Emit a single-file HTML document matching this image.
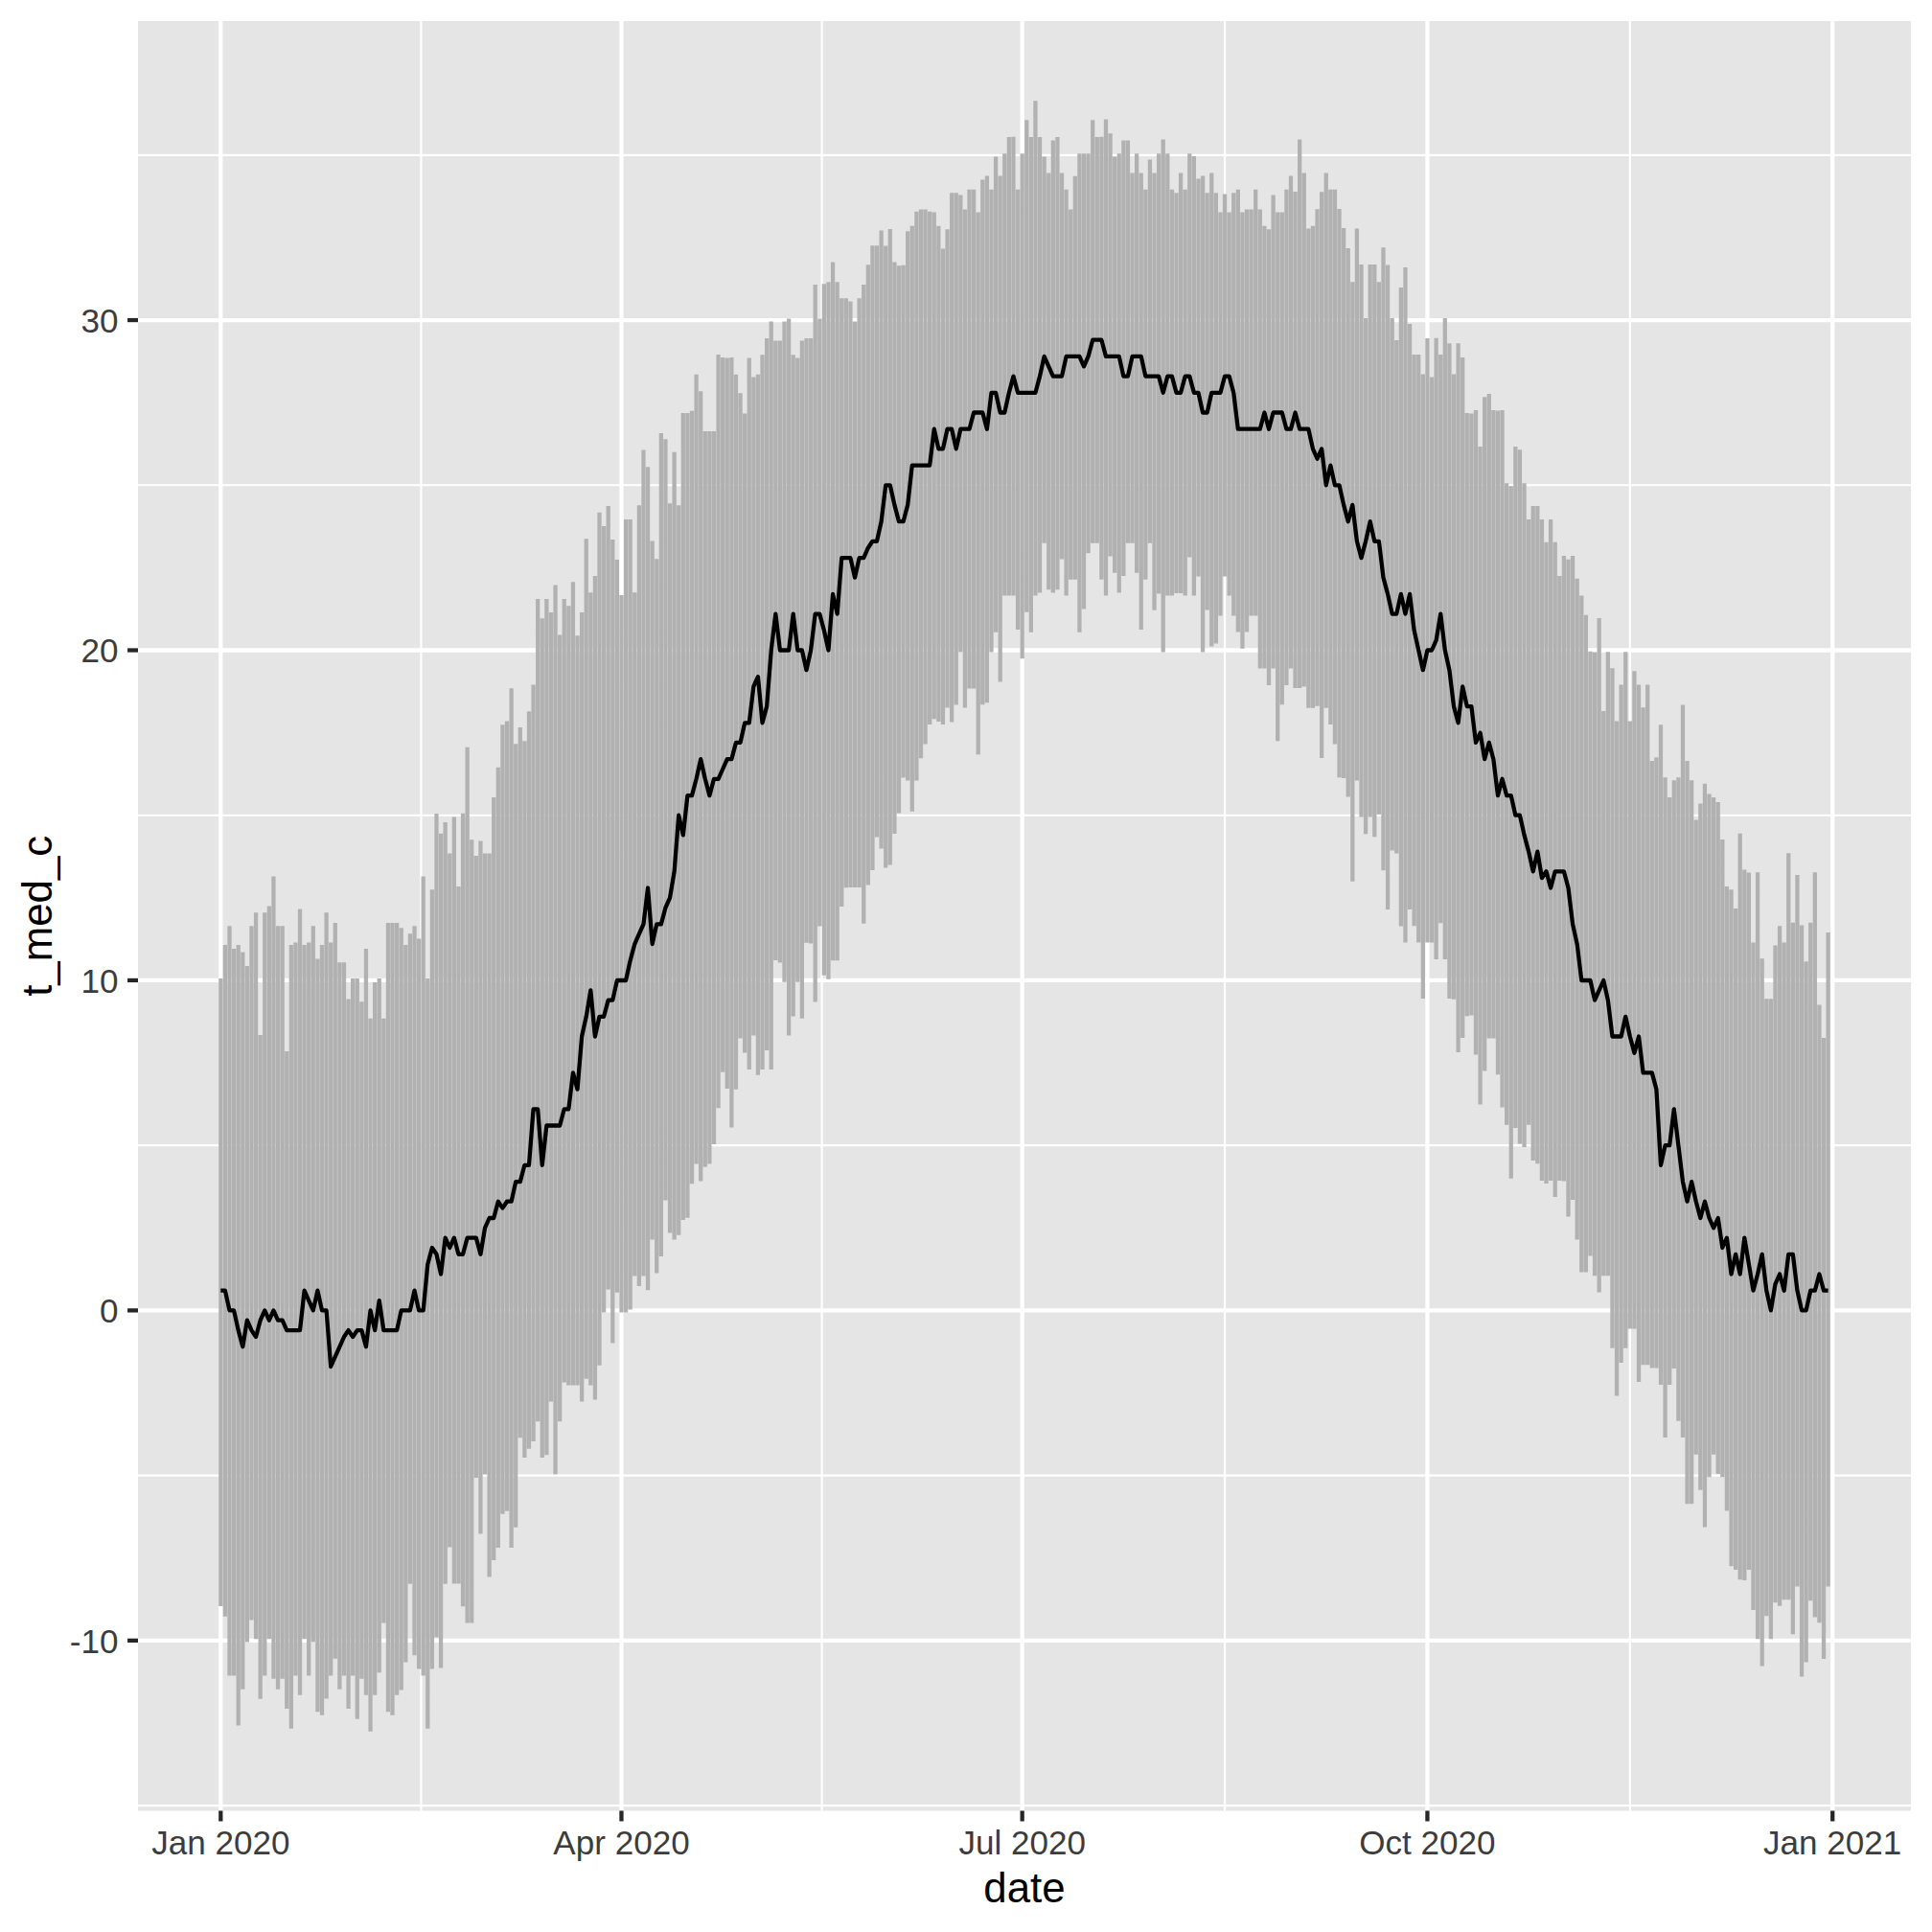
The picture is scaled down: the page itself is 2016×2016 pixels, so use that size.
<!DOCTYPE html>
<html lang="en"><head><meta charset="utf-8"><title>t_med_c by date</title>
<style>html,body{margin:0;padding:0;background:#fff}svg{display:block}text{font-family:"Liberation Sans",Arial,Helvetica,sans-serif}</style>
</head><body>
<svg width="2016" height="2016" viewBox="0 0 2016 2016">
<rect x="0" y="0" width="2016" height="2016" fill="#ffffff"/>
<rect x="144.0" y="22.0" width="1850.1" height="1867.5" fill="#E5E5E5"/>
<g stroke="#ffffff" stroke-width="2.135" fill="none">
<line x1="144.0" x2="1994.1" y1="161.83" y2="161.83"/>
<line x1="144.0" x2="1994.1" y1="506.28" y2="506.28"/>
<line x1="144.0" x2="1994.1" y1="850.73" y2="850.73"/>
<line x1="144.0" x2="1994.1" y1="1195.18" y2="1195.18"/>
<line x1="144.0" x2="1994.1" y1="1539.62" y2="1539.62"/>
<line x1="144.0" x2="1994.1" y1="1884.08" y2="1884.08"/>
<line y1="22.0" y2="1889.5" x1="439.39" x2="439.39"/>
<line y1="22.0" y2="1889.5" x1="857.57" x2="857.57"/>
<line y1="22.0" y2="1889.5" x1="1278.05" x2="1278.05"/>
<line y1="22.0" y2="1889.5" x1="1700.83" x2="1700.83"/>
</g>
<g stroke="#ffffff" stroke-width="4.27" fill="none">
<line x1="144.0" x2="1994.1" y1="334.05" y2="334.05"/>
<line x1="144.0" x2="1994.1" y1="678.50" y2="678.50"/>
<line x1="144.0" x2="1994.1" y1="1022.95" y2="1022.95"/>
<line x1="144.0" x2="1994.1" y1="1367.40" y2="1367.40"/>
<line x1="144.0" x2="1994.1" y1="1711.85" y2="1711.85"/>
<line y1="22.0" y2="1889.5" x1="230.30" x2="230.30"/>
<line y1="22.0" y2="1889.5" x1="648.48" x2="648.48"/>
<line y1="22.0" y2="1889.5" x1="1066.66" x2="1066.66"/>
<line y1="22.0" y2="1889.5" x1="1489.44" x2="1489.44"/>
<line y1="22.0" y2="1889.5" x1="1912.22" x2="1912.22"/>
</g>
<path d="M230.30 1021.1V1675.9M234.90 986.1V1686.7M239.49 966.3V1748.6M244.09 990.1V1748.6M248.68 986.1V1800.4M253.28 993.5V1762.7M257.87 1007.9V1713.6M262.47 966.3V1690.5M267.06 952.2V1710.3M271.66 1080.0V1772.8M276.25 952.2V1748.6M280.85 945.5V1710.3M285.44 914.4V1751.7M290.04 966.3V1762.7M294.64 966.3V1751.7M299.23 1096.9V1782.9M303.83 986.1V1803.8M308.42 983.4V1748.6M313.02 948.4V1768.8M317.61 986.1V1710.3M322.21 983.4V1748.6M326.80 966.3V1713.6M331.40 1000.6V1786.3M335.99 986.1V1789.7M340.59 952.2V1772.6M345.19 983.4V1748.6M349.78 963.0V1730.8M354.38 1004.3V1762.7M358.97 1004.3V1748.6M363.57 1042.4V1782.9M368.16 1021.1V1748.6M372.76 1021.1V1793.7M377.35 1045.3V1751.7M381.95 990.1V1768.8M386.54 1062.8V1806.7M391.14 1025.1V1768.8M395.73 1021.1V1745.2M400.33 1062.8V1693.4M404.93 963.0V1786.3M409.52 963.0V1789.7M414.12 963.0V1768.8M418.71 968.3V1763.4M423.31 986.1V1734.5M427.90 974.3V1652.8M432.50 966.3V1727.3M437.09 979.4V1741.6M441.69 914.4V1748.6M446.28 1021.1V1803.8M450.88 928.2V1741.6M455.47 849.1V1708.5M460.07 869.7V1740.5M464.67 857.9V1652.8M469.26 890.6V1614.5M473.86 852.6V1652.4M478.45 924.9V1652.4M483.05 848.7V1676.3M487.64 779.7V1693.6M492.24 876.3V1693.6M496.83 893.1V1542.0M501.43 877.4V1600.5M506.02 890.4V1538.6M510.62 890.4V1645.6M515.21 831.9V1628.1M519.81 800.7V1614.9M524.41 756.2V1579.7M529.00 752.4V1576.7M533.60 718.2V1614.9M538.19 776.3V1593.8M542.79 759.1V1500.3M547.38 773.3V1521.1M551.98 742.2V1511.7M556.57 714.6V1503.9M561.17 624.9V1483.2M565.76 645.3V1521.1M570.36 624.9V1518.2M574.95 638.9V1462.6M579.55 610.4V1538.2M584.15 662.4V1483.2M588.74 624.9V1442.4M593.34 632.2V1445.5M597.93 607.3V1445.5M602.53 663.2V1445.5M607.12 638.9V1462.6M611.72 562.2V1438.8M616.31 618.2V1445.5M620.91 600.9V1460.6M625.50 534.7V1424.7M630.10 549.1V1369.6M634.70 528.0V1345.6M639.29 563.0V1401.5M643.89 584.0V1348.7M648.48 621.1V1369.6M653.08 542.1V1369.6M657.67 542.1V1366.5M662.27 618.2V1331.5M666.86 527.2V1342.0M671.46 469.5V1331.5M676.05 487.3V1346.3M680.65 564.6V1293.5M685.24 583.2V1328.5M689.84 452.0V1310.9M694.44 458.3V1252.5M699.03 525.2V1286.4M703.63 471.7V1293.5M708.22 527.2V1288.8M712.82 431.1V1273.0M717.41 431.1V1270.7M722.01 428.8V1235.3M726.60 390.7V1214.4M731.20 408.2V1232.6M735.79 449.9V1217.8M740.39 449.9V1214.4M744.98 449.9V1193.9M749.58 369.9V1156.3M754.18 373.0V1118.7M758.77 373.5V1136.1M763.37 373.0V1176.5M767.96 390.7V1136.7M772.56 410.2V1083.6M777.15 431.4V1098.4M781.75 373.5V1115.9M786.34 393.4V1080.6M790.94 390.7V1121.7M795.53 370.3V1115.9M800.13 353.0V1096.1M804.72 335.5V1115.9M809.32 355.5V1001.9M813.92 355.5V1004.6M818.51 335.5V1024.8M823.11 332.5V1080.6M827.70 370.3V1060.4M832.30 373.5V1024.8M836.89 355.5V1062.7M841.49 353.0V983.7M846.08 353.0V984.4M850.68 296.9V1045.6M855.27 332.5V966.5M859.87 296.3V1017.8M864.47 294.2V1021.7M869.06 273.4V1002.2M873.66 294.2V1002.2M878.25 311.3V946.1M882.85 311.3V926.3M887.44 314.4V925.9M892.04 335.5V925.9M896.63 311.3V925.9M901.23 297.0V963.8M905.82 276.3V923.6M910.42 256.3V908.0M915.01 256.3V873.4M919.61 240.5V885.5M924.21 256.4V905.4M928.80 238.9V902.6M933.40 273.6V870.1M937.99 277.2V848.5M942.59 276.8V811.5M947.18 241.3V814.6M951.78 235.8V846.8M956.37 220.7V814.6M960.97 218.4V791.3M965.56 218.4V776.5M970.16 220.7V756.1M974.75 221.4V750.3M979.35 235.8V753.0M983.95 259.5V756.1M988.54 239.2V738.6M993.14 201.2V753.4M997.73 201.2V735.5M1002.33 203.5V680.4M1006.92 218.4V738.6M1011.52 197.8V718.5M1016.11 197.8V718.5M1020.71 221.4V787.3M1025.30 187.5V735.3M1029.90 183.4V733.3M1034.49 197.8V680.4M1039.09 163.5V659.8M1043.69 183.4V711.6M1048.28 160.2V621.6M1052.88 143.1V621.6M1057.47 142.7V621.6M1062.07 197.8V656.9M1066.66 160.2V687.2M1071.26 125.2V638.7M1075.85 143.1V659.8M1080.45 105.3V621.6M1085.04 143.1V618.5M1089.64 163.5V566.7M1094.24 180.6V615.2M1098.83 146.4V618.5M1103.43 143.1V615.2M1108.02 180.6V583.5M1112.62 197.8V621.6M1117.21 218.4V604.7M1121.81 183.7V604.7M1126.40 160.2V659.8M1131.00 160.2V635.6M1135.59 160.2V577.2M1140.19 125.2V566.7M1144.78 143.1V566.7M1149.38 142.7V604.7M1153.98 124.5V621.6M1158.57 139.3V580.6M1163.17 163.5V597.7M1167.76 160.2V618.5M1172.36 146.4V601.0M1176.95 146.4V566.7M1181.55 180.6V566.7M1186.14 160.2V597.7M1190.74 180.6V656.9M1195.33 197.8V604.7M1199.93 166.6V566.7M1204.52 180.6V636.7M1209.12 160.2V619.5M1213.72 145.4V680.4M1218.31 160.2V621.6M1222.91 197.8V621.6M1227.50 201.2V618.9M1232.10 180.6V618.9M1236.69 197.8V621.6M1241.29 160.2V581.4M1245.88 163.1V621.6M1250.48 186.4V601.4M1255.07 183.4V680.4M1259.67 201.2V636.5M1264.26 180.6V674.5M1268.86 201.2V671.4M1273.46 221.4V642.5M1278.05 202.6V601.4M1282.65 221.4V621.6M1287.24 201.2V642.5M1291.84 197.8V659.6M1296.43 221.4V676.8M1301.03 218.4V659.6M1305.62 218.4V642.5M1310.22 197.8V642.5M1314.81 218.4V697.6M1319.41 235.8V697.6M1324.01 239.2V715.1M1328.60 203.5V697.6M1333.20 221.4V773.3M1337.79 221.4V735.3M1342.39 197.8V715.1M1346.98 183.4V697.6M1351.58 199.9V718.1M1356.17 145.4V718.1M1360.77 180.6V716.5M1365.36 238.5V738.7M1369.96 235.7V738.7M1374.55 218.3V736.7M1379.15 200.3V791.1M1383.75 180.4V738.7M1388.34 197.8V756.0M1392.94 197.7V776.4M1397.53 218.1V811.3M1402.13 238.1V812.0M1406.72 258.9V831.5M1411.32 294.2V919.7M1415.91 238.6V814.4M1420.51 276.0V852.4M1425.10 332.1V870.3M1429.70 276.0V852.4M1434.29 276.0V873.2M1438.89 294.2V849.7M1443.49 258.3V908.2M1448.08 276.4V949.0M1452.68 332.1V887.6M1457.27 355.1V890.5M1461.87 300.0V966.5M1466.46 279.1V983.6M1471.06 337.9V949.0M1475.65 370.0V966.3M1480.25 370.0V983.6M1484.84 390.5V1042.1M1489.44 352.9V983.6M1494.03 393.6V983.6M1498.63 352.8V1001.0M1503.23 370.0V963.2M1507.82 332.1V1001.0M1512.42 358.3V1042.1M1517.01 390.5V1042.8M1521.61 358.3V1097.9M1526.20 373.1V1083.1M1530.80 431.1V1060.3M1535.39 431.5V1059.6M1539.99 428.1V1100.6M1544.58 466.1V1152.4M1549.18 414.3V1117.5M1553.78 411.1V1083.5M1558.37 428.1V1083.5M1562.97 428.4V1121.2M1567.56 428.1V1155.4M1572.16 504.2V1173.7M1576.75 507.3V1229.7M1581.35 466.1V1176.9M1585.94 469.2V1193.6M1590.54 504.2V1196.9M1595.13 541.9V1173.7M1599.73 528.0V1210.9M1604.32 528.0V1214.3M1608.92 541.9V1232.0M1613.52 565.8V1235.1M1618.11 541.9V1232.0M1622.71 565.8V1248.9M1627.30 601.0V1232.0M1631.90 580.1V1232.4M1636.49 583.8V1269.4M1641.09 580.1V1251.9M1645.68 603.7V1293.4M1650.28 621.6V1327.5M1654.87 641.7V1327.5M1659.47 679.8V1310.4M1664.06 680.4V1331.3M1668.66 645.1V1348.5M1673.26 742.1V1331.3M1677.85 680.2V1331.3M1682.45 697.3V1406.8M1687.04 752.4V1456.5M1691.64 714.4V1422.0M1696.23 680.2V1406.8M1700.83 752.4V1386.5M1705.42 700.2V1386.5M1710.02 714.4V1442.0M1714.61 738.3V1424.2M1719.21 714.4V1424.2M1723.80 794.1V1427.6M1728.40 790.3V1427.6M1733.00 756.2V1445.1M1737.59 811.2V1499.9M1742.19 832.1V1445.1M1746.78 814.2V1427.9M1751.38 811.2V1482.8M1755.97 735.4V1499.9M1760.57 794.1V1569.3M1765.16 814.2V1569.3M1769.76 855.5V1517.8M1774.35 838.4V1554.8M1778.95 817.7V1593.4M1783.55 828.4V1541.3M1788.14 832.1V1517.8M1792.74 837.1V1537.9M1797.33 876.1V1541.3M1801.93 925.0V1576.6M1806.52 928.3V1634.3M1811.12 948.1V1637.9M1815.71 869.7V1648.3M1820.31 907.5V1649.1M1824.90 910.4V1638.0M1829.50 983.4V1679.9M1834.09 910.2V1710.3M1838.69 1000.3V1738.5M1843.29 1042.3V1686.3M1847.88 1042.3V1710.3M1852.48 986.5V1672.2M1857.07 966.3V1675.8M1861.67 983.4V1669.2M1866.26 890.3V1669.2M1870.86 962.7V1705.2M1875.45 913.1V1655.5M1880.05 965.4V1749.6M1884.64 1003.3V1734.5M1889.24 962.7V1670.2M1893.83 910.2V1687.4M1898.43 1048.4V1693.3M1903.03 1082.9V1731.0M1907.62 973.0V1655.5" stroke="#B1B1B1" stroke-width="4.27" fill="none" stroke-linecap="butt"/>
<polyline points="230.30,1346.7 234.90,1346.7 239.49,1367.4 244.09,1367.4 248.68,1388.1 253.28,1405.3 257.87,1377.7 262.47,1388.1 267.06,1395.0 271.66,1377.7 276.25,1367.4 280.85,1377.7 285.44,1367.4 290.04,1377.7 294.64,1377.7 299.23,1388.1 303.83,1388.1 308.42,1388.1 313.02,1388.1 317.61,1346.7 322.21,1357.1 326.80,1367.4 331.40,1346.7 335.99,1367.4 340.59,1367.4 345.19,1426.0 349.78,1415.6 354.38,1405.3 358.97,1395.0 363.57,1388.1 368.16,1395.0 372.76,1388.1 377.35,1388.1 381.95,1405.3 386.54,1367.4 391.14,1388.1 395.73,1357.1 400.33,1388.1 404.93,1388.1 409.52,1388.1 414.12,1388.1 418.71,1367.4 423.31,1367.4 427.90,1367.4 432.50,1346.7 437.09,1367.4 441.69,1367.4 446.28,1319.2 450.88,1302.0 455.47,1308.8 460.07,1329.5 464.67,1291.6 469.26,1302.0 473.86,1291.6 478.45,1308.8 483.05,1308.8 487.64,1291.6 492.24,1291.6 496.83,1291.6 501.43,1308.8 506.02,1281.3 510.62,1271.0 515.21,1271.0 519.81,1253.7 524.41,1260.6 529.00,1253.7 533.60,1253.7 538.19,1233.1 542.79,1233.1 547.38,1215.8 551.98,1215.8 556.57,1157.3 561.17,1157.3 565.76,1215.8 570.36,1174.5 574.95,1174.5 579.55,1174.5 584.15,1174.5 588.74,1157.3 593.34,1157.3 597.93,1119.4 602.53,1136.6 607.12,1081.5 611.72,1060.8 616.31,1033.3 620.91,1081.5 625.50,1060.8 630.10,1060.8 634.70,1043.6 639.29,1043.6 643.89,1023.0 648.48,1023.0 653.08,1023.0 657.67,1002.3 662.27,985.1 666.86,974.7 671.46,964.4 676.05,926.5 680.65,985.1 685.24,964.4 689.84,964.4 694.44,947.2 699.03,936.8 703.63,909.3 708.22,850.7 712.82,871.4 717.41,830.1 722.01,830.1 726.60,812.8 731.20,792.2 735.79,812.8 740.39,830.1 744.98,812.8 749.58,812.8 754.18,802.5 758.77,792.2 763.37,792.2 767.96,774.9 772.56,774.9 777.15,754.3 781.75,754.3 786.34,716.4 790.94,706.1 795.53,754.3 800.13,737.1 804.72,678.5 809.32,640.6 813.92,678.5 818.51,678.5 823.11,678.5 827.70,640.6 832.30,678.5 836.89,678.5 841.49,699.2 846.08,678.5 850.68,640.6 855.27,640.6 859.87,657.8 864.47,678.5 869.06,619.9 873.66,640.6 878.25,582.1 882.85,582.1 887.44,582.1 892.04,602.7 896.63,582.1 901.23,582.1 905.82,571.7 910.42,564.8 915.01,564.8 919.61,544.2 924.21,506.3 928.80,506.3 933.40,526.9 937.99,544.2 942.59,544.2 947.18,526.9 951.78,485.6 956.37,485.6 960.97,485.6 965.56,485.6 970.16,485.6 974.75,447.7 979.35,468.4 983.95,468.4 988.54,447.7 993.14,447.7 997.73,468.4 1002.33,447.7 1006.92,447.7 1011.52,447.7 1016.11,430.5 1020.71,430.5 1025.30,430.5 1029.90,447.7 1034.49,409.8 1039.09,409.8 1043.69,430.5 1048.28,430.5 1052.88,409.8 1057.47,392.6 1062.07,409.8 1066.66,409.8 1071.26,409.8 1075.85,409.8 1080.45,409.8 1085.04,392.6 1089.64,371.9 1094.24,382.3 1098.83,392.6 1103.43,392.6 1108.02,392.6 1112.62,371.9 1117.21,371.9 1121.81,371.9 1126.40,371.9 1131.00,382.3 1135.59,371.9 1140.19,354.7 1144.78,354.7 1149.38,354.7 1153.98,371.9 1158.57,371.9 1163.17,371.9 1167.76,371.9 1172.36,392.6 1176.95,392.6 1181.55,371.9 1186.14,371.9 1190.74,371.9 1195.33,392.6 1199.93,392.6 1204.52,392.6 1209.12,392.6 1213.72,409.8 1218.31,392.6 1222.91,392.6 1227.50,409.8 1232.10,409.8 1236.69,392.6 1241.29,392.6 1245.88,409.8 1250.48,409.8 1255.07,430.5 1259.67,430.5 1264.26,409.8 1268.86,409.8 1273.46,409.8 1278.05,392.6 1282.65,392.6 1287.24,409.8 1291.84,447.7 1296.43,447.7 1301.03,447.7 1305.62,447.7 1310.22,447.7 1314.81,447.7 1319.41,430.5 1324.01,447.7 1328.60,430.5 1333.20,430.5 1337.79,430.5 1342.39,447.7 1346.98,447.7 1351.58,430.5 1356.17,447.7 1360.77,447.7 1365.36,447.7 1369.96,468.4 1374.55,478.7 1379.15,468.4 1383.75,506.3 1388.34,485.6 1392.94,506.3 1397.53,506.3 1402.13,526.9 1406.72,544.2 1411.32,526.9 1415.91,564.8 1420.51,582.1 1425.10,564.8 1429.70,544.2 1434.29,564.8 1438.89,564.8 1443.49,602.7 1448.08,619.9 1452.68,640.6 1457.27,640.6 1461.87,619.9 1466.46,640.6 1471.06,619.9 1475.65,657.8 1480.25,678.5 1484.84,699.2 1489.44,678.5 1494.03,678.5 1498.63,668.2 1503.23,640.6 1507.82,678.5 1512.42,699.2 1517.01,737.1 1521.61,754.3 1526.20,716.4 1530.80,737.1 1535.39,737.1 1539.99,774.9 1544.58,764.6 1549.18,792.2 1553.78,774.9 1558.37,792.2 1562.97,830.1 1567.56,812.8 1572.16,830.1 1576.75,830.1 1581.35,850.7 1585.94,850.7 1590.54,871.4 1595.13,888.6 1599.73,909.3 1604.32,888.6 1608.92,916.2 1613.52,909.3 1618.11,926.5 1622.71,909.3 1627.30,909.3 1631.90,909.3 1636.49,926.5 1641.09,964.4 1645.68,985.1 1650.28,1023.0 1654.87,1023.0 1659.47,1023.0 1664.06,1043.6 1668.66,1033.3 1673.26,1023.0 1677.85,1043.6 1682.45,1081.5 1687.04,1081.5 1691.64,1081.5 1696.23,1060.8 1700.83,1081.5 1705.42,1098.7 1710.02,1081.5 1714.61,1119.4 1719.21,1119.4 1723.80,1119.4 1728.40,1136.6 1733.00,1215.8 1737.59,1195.2 1742.19,1195.2 1746.78,1157.3 1751.38,1195.2 1755.97,1233.1 1760.57,1253.7 1765.16,1233.1 1769.76,1253.7 1774.35,1271.0 1778.95,1253.7 1783.55,1271.0 1788.14,1281.3 1792.74,1271.0 1797.33,1302.0 1801.93,1291.6 1806.52,1329.5 1811.12,1308.8 1815.71,1329.5 1820.31,1291.6 1824.90,1319.2 1829.50,1346.7 1834.09,1329.5 1838.69,1308.8 1843.29,1346.7 1847.88,1367.4 1852.48,1339.8 1857.07,1329.5 1861.67,1346.7 1866.26,1308.8 1870.86,1308.8 1875.45,1346.7 1880.05,1367.4 1884.64,1367.4 1889.24,1346.7 1893.83,1346.7 1898.43,1329.5 1903.03,1346.7 1907.62,1346.7" stroke="#000000" stroke-width="4.27" fill="none" stroke-linejoin="round" stroke-linecap="butt"/>
<g stroke="#262626" stroke-width="4.27" fill="none">
<line x1="133.04" x2="144.0" y1="334.05" y2="334.05"/>
<line x1="133.04" x2="144.0" y1="678.50" y2="678.50"/>
<line x1="133.04" x2="144.0" y1="1022.95" y2="1022.95"/>
<line x1="133.04" x2="144.0" y1="1367.40" y2="1367.40"/>
<line x1="133.04" x2="144.0" y1="1711.85" y2="1711.85"/>
<line y1="1889.5" y2="1900.46" x1="230.30" x2="230.30"/>
<line y1="1889.5" y2="1900.46" x1="648.48" x2="648.48"/>
<line y1="1889.5" y2="1900.46" x1="1066.66" x2="1066.66"/>
<line y1="1889.5" y2="1900.46" x1="1489.44" x2="1489.44"/>
<line y1="1889.5" y2="1900.46" x1="1912.22" x2="1912.22"/>
</g>
<g fill="#3C3C3C" font-size="35.07px">
<text x="123.5" y="346.7" text-anchor="end">30</text>
<text x="123.5" y="691.1" text-anchor="end">20</text>
<text x="123.5" y="1035.5" text-anchor="end">10</text>
<text x="123.5" y="1380.0" text-anchor="end">0</text>
<text x="123.5" y="1724.5" text-anchor="end">-10</text>
<text x="230.3" y="1935.2" text-anchor="middle">Jan 2020</text>
<text x="648.5" y="1935.2" text-anchor="middle">Apr 2020</text>
<text x="1066.7" y="1935.2" text-anchor="middle">Jul 2020</text>
<text x="1489.4" y="1935.2" text-anchor="middle">Oct 2020</text>
<text x="1912.2" y="1935.2" text-anchor="middle">Jan 2021</text>
</g>
<g fill="#000000" font-size="43.84px">
<text x="1069.0" y="1985.2" text-anchor="middle">date</text>
<text transform="translate(53.5 955.8) rotate(-90)" text-anchor="middle">t_med_c</text>
</g>
</svg></body></html>
